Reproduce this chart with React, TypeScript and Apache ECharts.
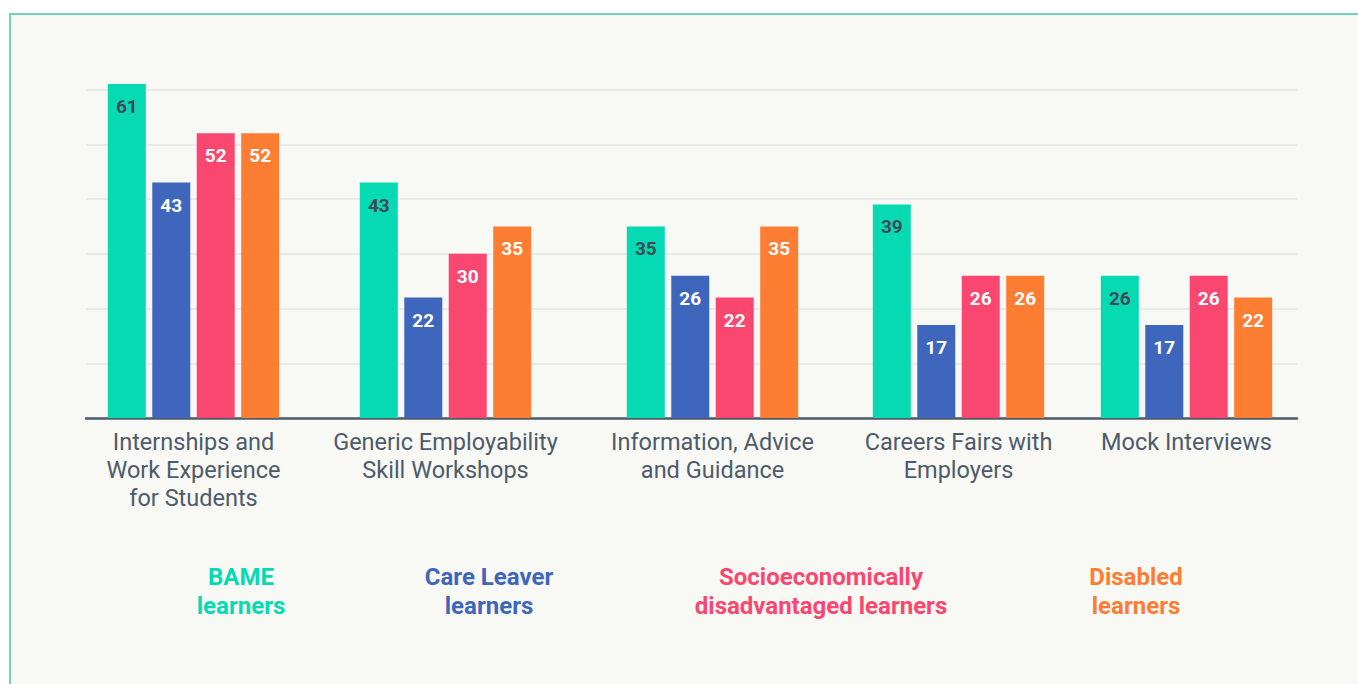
import React, { useEffect, useRef } from "react";
import * as echarts from "echarts";

const categories = [
  "Internships and\nWork Experience\nfor Students",
  "Generic Employability\nSkill Workshops",
  "Information, Advice\nand Guidance",
  "Careers Fairs with\nEmployers",
  "Mock Interviews",
];
const seriesNames = [
  "BAME\nlearners",
  "Care Leaver\nlearners",
  "Socioeconomically\ndisadvantaged learners",
  "Disabled\nlearners",
];
const bame = [61, 43, 35, 39, 26];
const careLeaver = [43, 22, 26, 17, 17];
const socio = [52, 30, 22, 26, 26];
const disabled = [52, 35, 35, 26, 22];
const yTicks = [0, 10, 20, 30, 40, 50, 60];

const values = [bame, careLeaver, socio, disabled];
const colors = ["#06dab3", "#3e66bc", "#fa476f", "#fd7e33"];
const labelColors = ["#3f4a58", "#ffffff", "#ffffff", "#ffffff"];
const groupCenters = [193.5, 445.5, 712.5, 958.5, 1186.5];
const legendCenters = [241, 489, 821, 1136];
const FONT = "Roboto";
const SLATE = "#4d5b6b";

export default function App() {
  const ref = useRef<HTMLDivElement>(null);
  useEffect(() => {
    if (!ref.current) return;
    const chart = echarts.init(ref.current, undefined, { renderer: "svg" });
    const top = 89.5;
    const bottom = 684 - 418;
    const yMax = yTicks[yTicks.length - 1];
    const grids: any[] = [{ left: 86, right: 61, top, bottom }];
    const xAxes: any[] = [
      {
        type: "category",
        gridIndex: 0,
        data: [""],
        axisLine: { show: true, lineStyle: { color: SLATE, width: 2.5 } },
        axisTick: { show: false },
        axisLabel: { show: false },
      },
    ];
    const yAxes: any[] = [
      {
        type: "value",
        gridIndex: 0,
        min: 0,
        max: yMax,
        interval: 10,
        axisLine: { show: false },
        axisTick: { show: false },
        axisLabel: { show: false },
        splitLine: { show: true, lineStyle: { color: "#eaeaea", width: 2 } },
      },
    ];
    const series: any[] = [];
    categories.forEach((cat, g) => {
      grids.push({ left: groupCenters[g] - 100, width: 200, top, bottom });
      xAxes.push({
        type: "category",
        gridIndex: g + 1,
        data: [cat],
        axisLine: { show: false },
        axisTick: { show: false },
        axisLabel: {
          color: SLATE,
          fontFamily: FONT,
          fontSize: 23.5,
          lineHeight: 28,
          margin: 10,
          interval: 0,
        },
      });
      yAxes.push({
        type: "value",
        gridIndex: g + 1,
        min: 0,
        max: yMax,
        interval: 10,
        show: false,
        splitLine: { show: false },
      });
      values.forEach((vals, s) => {
        series.push({
          type: "bar",
          name: seriesNames[s],
          xAxisIndex: g + 1,
          yAxisIndex: g + 1,
          data: [vals[g]],
          barWidth: 38,
          barGap: "17%",
          clip: false,
          itemStyle: { color: colors[s] },
          label: {
            show: true,
            position: "insideTop",
            distance: 13,
            color: labelColors[s],
            fontFamily: FONT,
            fontWeight: "bold",
            fontSize: 19,
          },
        });
      });
    });
    const graphic = seriesNames.map((name, s) => ({
      type: "text",
      x: legendCenters[s],
      y: 562,
      style: {
        text: name,
        fill: colors[s],
        font: `bold 24px ${FONT}`,
        lineHeight: 29,
        align: "center",
      },
    }));
    chart.setOption({
      animation: false,
      backgroundColor: "transparent",
      grid: grids,
      xAxis: xAxes,
      yAxis: yAxes,
      series,
      graphic,
    });
    return () => chart.dispose();
  }, []);
  return (
    <div style={{ position: "absolute", left: 0, top: 0, width: 1358, height: 684, background: "#ffffff", overflow: "hidden" }}>
      <div
        style={{
          position: "absolute",
          left: 9,
          top: 13,
          width: 1400,
          height: 720,
          border: "2px solid #72d3b8",
          background: "#f8f8f4",
        }}
      />
      <div ref={ref} style={{ position: "absolute", left: 0, top: 0, width: 1358, height: 684 }} />
    </div>
  );
}
